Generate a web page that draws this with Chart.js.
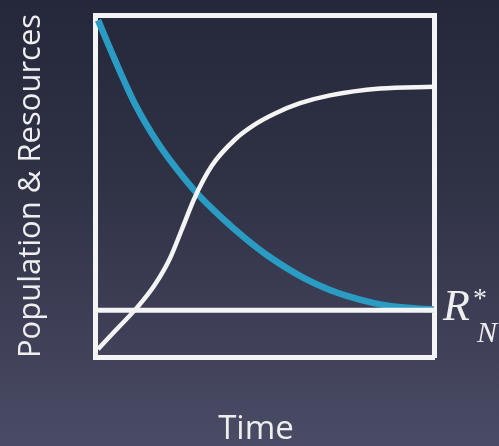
<!DOCTYPE html>
<html>
<head>
<meta charset="utf-8">
<script src="https://cdn.jsdelivr.net/npm/chart.js@4/dist/chart.umd.min.js"></script>
<style>
  html, body { margin: 0; padding: 0; }
  body {
    width: 499px;
    height: 446px;
    overflow: hidden;
    background: linear-gradient(to bottom, #25273a 0%, #2f3145 40%, #4a4b65 100%);
  }
  #wrap { position: relative; width: 499px; height: 446px; }
</style>
</head>
<body>
<div id="wrap"><canvas id="chart"></canvas></div>
<script>
// resources (blue curve), percent of axis
const resourceTime = [0.9, 5.9, 11.8, 18.6, 24.5, 29.5, 37.5, 44.2, 51, 61.4, 69.3, 74.3, 84.1, 92, 100];
const resources = [98.5, 86.8, 74, 62.5, 54.5, 48.5, 40.6, 34.8, 29.6, 23.2, 19.6, 17.9, 15.4, 14.4, 13.9];

// population (white logistic curve)
const populationTime = [0.9, 5.9, 12.7, 17.7, 22.1, 25.7, 29.5, 34.5, 41.3, 47.2, 53.1, 60.5, 69.3, 84.1, 100];
const population = [2.3, 7.6, 14.8, 21.2, 28.8, 37.5, 46.8, 56, 63.6, 68, 71.2, 74.2, 76.5, 78.5, 79];

// R*_N level
const rStar = 13.7;

const xTitle = 'Time';
const yTitle = 'Population & Resources';

const frameColor = '#f4f4f4';
const textColor = '#eeeeee';
const blue = '#2a9cc3';
const sans = '"Open Sans", "DejaVu Sans", sans-serif';

function toPoints(xs, ys) {
  return xs.map((x, i) => ({ x: x, y: ys[i] }));
}

// draws the R*_N label next to the right frame
const rStarLabel = {
  id: 'rStarLabel',
  afterDraw(chart) {
    const ctx = chart.ctx;
    const y = chart.scales.y.getPixelForValue(rStar);
    const x = chart.chartArea.right + 9;
    ctx.save();
    ctx.fillStyle = textColor;
    ctx.textBaseline = 'alphabetic';
    ctx.font = 'italic 44px "Liberation Serif"';
    ctx.fillText('R', x, y + 10);
    const w = ctx.measureText('R').width;
    ctx.font = '28px "Liberation Serif"';
    ctx.fillText('*', x + w + 3, y - 3);
    ctx.font = 'italic 30px "Liberation Serif"';
    ctx.fillText('N', x + w + 7, y + 32);
    ctx.restore();
  }
};

function frameAxis(axis, position, size) {
  return {
    type: 'linear',
    axis: axis,
    position: position,
    min: 0,
    max: 100,
    grid: { display: false },
    ticks: { display: false },
    border: { color: frameColor, width: 5 },
    afterFit(scale) {
      if (axis === 'x') scale.height = size;
      else scale.width = size;
    }
  };
}

const xAxis = frameAxis('x', 'bottom', 89);
xAxis.title = {
  display: true,
  text: xTitle + '  ',
  color: textColor,
  font: { family: sans, size: 33, lineHeight: 1 },
  padding: { top: 0, bottom: 0 }
};

const yAxis = frameAxis('y', 'left', 95);
yAxis.title = {
  display: true,
  text: yTitle,
  color: textColor,
  font: { family: sans, size: 31, lineHeight: 1 },
  padding: { top: 16, bottom: 0 }
};

const ctx = document.getElementById('chart').getContext('2d');
new Chart(ctx, {
  type: 'scatter',
  data: {
    datasets: [
      {
        label: 'R*',
        data: [{ x: 0, y: rStar }, { x: 100, y: rStar }],
        showLine: true,
        borderColor: frameColor,
        borderWidth: 5
      },
      {
        label: 'Population',
        data: toPoints(populationTime, population),
        showLine: true,
        borderColor: frameColor,
        borderWidth: 4.5,
        cubicInterpolationMode: 'monotone'
      },
      {
        label: 'Resources',
        data: toPoints(resourceTime, resources),
        showLine: true,
        borderColor: blue,
        borderWidth: 6.5,
        cubicInterpolationMode: 'monotone'
      }
    ]
  },
  options: {
    responsive: true,
    maintainAspectRatio: false,
    animation: false,
    layout: { padding: 0 },
    elements: { point: { radius: 0, hoverRadius: 0 } },
    plugins: {
      legend: { display: false },
      tooltip: { enabled: false }
    },
    scales: {
      x: xAxis,
      xTop: frameAxis('x', 'top', 15),
      y: yAxis,
      yRight: frameAxis('y', 'right', 65)
    }
  },
  plugins: [rStarLabel]
});
</script>
</body>
</html>
